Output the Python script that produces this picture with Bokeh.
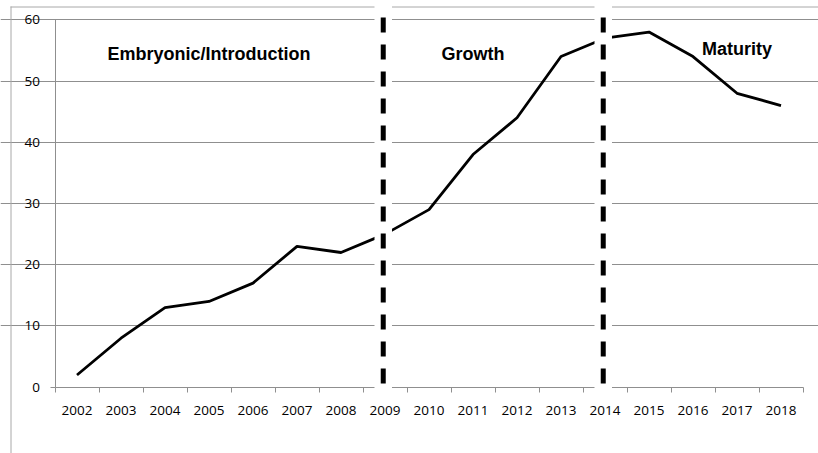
from bokeh.plotting import figure
from bokeh.models import Range1d, LinearAxis, FixedTicker, Grid, ColumnDataSource
from bokeh.core.properties import value
from bokeh.embed import file_html
from bokeh.resources import INLINE

# ---- data ----
years = ["2002", "2003", "2004", "2005", "2006", "2007", "2008", "2009", "2010",
         "2011", "2012", "2013", "2014", "2015", "2016", "2017", "2018"]
values = [2, 8, 13, 14, 17, 23, 22, 25, 29, 38, 44, 54, 57, 58, 54, 48, 46]
y_ticks = [0, 10, 20, 30, 40, 50, 60]
phase_boundaries = ["2009", "2014"]
phase_names = ["Embryonic/Introduction", "Growth", "Maturity"]
phase_label_year = ["2005", "2011", "2017"]

# ---- layout constants (pixels) ----
W, H = 818, 453
X0_PX = 54.5      # left edge of plot area
CAT_PX = 44.0     # width of one category
Y0_PX = 386.7     # pixel row of value 0
UNIT_PX = 6.123   # pixels per unit


def xd(px):
    return (px - X0_PX) / CAT_PX - 0.5


def yd(px):
    return (Y0_PX - px) / UNIT_PX


xs = list(range(len(years)))
src = ColumnDataSource(dict(x=xs, y=values))

p = figure(width=W, height=H, output_backend="svg", toolbar_location=None,
           x_range=Range1d(xd(0), xd(W)), y_range=Range1d(yd(H), yd(0)),
           x_axis_location=None, y_axis_location=None, min_border=0,
           outline_line_color=None, background_fill_color="white",
           border_fill_color="white")
# drop default grids
p.center = [r for r in p.center if not isinstance(r, Grid)]

grid_col = "#8f8f8f"
n = len(years)

# gridlines
yg = Grid(dimension=1, ticker=FixedTicker(ticks=y_ticks[1:]),
          bounds=(-0.5, n - 0.5), grid_line_color=grid_col, grid_line_width=1)
p.add_layout(yg)

# outer chart border (top and left)
p.segment(x0=[xd(10)], y0=[yd(6.5)], x1=[xd(W)], y1=[yd(6.5)],
          line_color="#a8a8a8", line_width=1)
p.segment(x0=[xd(10.5)], y0=[yd(6)], x1=[xd(10.5)], y1=[yd(H)],
          line_color="#a8a8a8", line_width=1)

# axes
yax = LinearAxis(fixed_location=-0.5, ticker=FixedTicker(ticks=y_ticks),
                 bounds=(0, 60))
yax.axis_line_color = grid_col
yax.major_tick_line_color = grid_col
yax.major_tick_out = 5
yax.major_tick_in = 0
yax.minor_tick_line_color = None
yax.major_label_standoff = 10
yax.major_label_text_font = "Open Sans"
yax.major_label_text_font_size = "13.5px"
yax.major_label_text_color = "black"
p.add_layout(yax, "left")

xax = LinearAxis(fixed_location=0,
                 ticker=FixedTicker(ticks=xs, minor_ticks=[i - 0.5 for i in range(n + 1)]),
                 bounds=(-0.5, n - 0.5))
xax.major_label_overrides = {i: y for i, y in enumerate(years)}
xax.axis_line_color = grid_col
xax.major_tick_line_color = None
xax.major_tick_out = 0
xax.major_tick_in = 0
xax.minor_tick_line_color = grid_col
xax.minor_tick_out = 5
xax.minor_tick_in = 0
xax.major_label_standoff = 14
xax.major_label_text_font = "Open Sans"
xax.major_label_text_font_size = "13.5px"
xax.major_label_text_color = "black"
p.add_layout(xax, "below")

# data line
p.line("x", "y", source=src, line_color="black", line_width=2.8, line_join="round")

# phase labels
p.text(x=[years.index(y) for y in phase_label_year[:2]],
       y=[yd(53.3)] * 2, text=phase_names[:2],
       text_font=value("Liberation Sans"), text_font_style="bold",
       text_font_size="18px", text_align="center", text_baseline="alphabetic",
       text_color="black")
p.text(x=[years.index(phase_label_year[2])], y=[yd(48.3)], text=[phase_names[2]],
       text_font=value("Liberation Sans"), text_font_style="bold",
       text_font_size="18px", text_align="center", text_baseline="alphabetic",
       text_color="black")

# phase boundaries: white band + thick dashed line
bx = [years.index(b) - 0.04 for b in phase_boundaries]
half = 8.75 / CAT_PX
p.quad(left=[b - half for b in bx], right=[b + half for b in bx],
       bottom=[yd(390)] * len(bx), top=[yd(0)] * len(bx),
       fill_color="white", line_color=None, level="overlay")
p.segment(x0=bx, y0=[yd(17)] * len(bx), x1=bx, y1=[yd(385)] * len(bx),
          line_color="black", line_width=5, line_dash="15 12", level="overlay")

open("out.html", "w").write(file_html(p, INLINE))
